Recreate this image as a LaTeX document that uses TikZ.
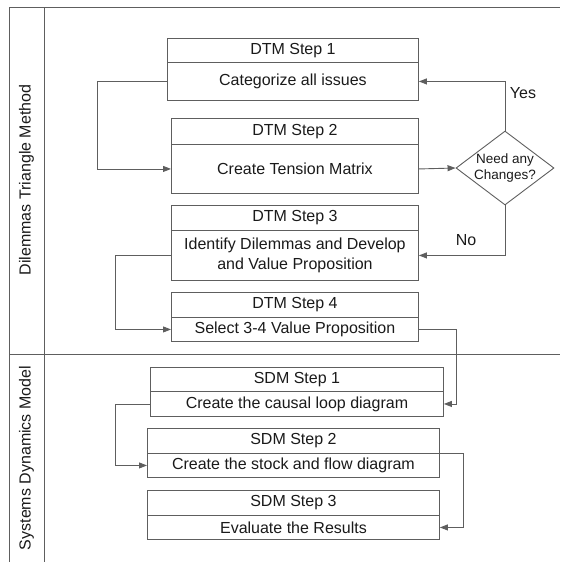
\documentclass[tikz,border=0pt]{standalone}
\usepackage{fontspec}
\setmainfont{Liberation Sans}
\usetikzlibrary{arrows.meta,shapes.geometric}
\definecolor{linegray}{HTML}{5E5E5E}
\definecolor{inkgray}{HTML}{1A1A1A}
\tikzset{
  part/.style={draw=linegray, line width=0.9pt, rectangle, anchor=north west,
    inner sep=0pt, text=inkgray, font=\fontsize{16}{20}\selectfont, align=center},
  conn/.style={draw=linegray, line width=0.9pt, -{Triangle[length=8pt,width=6pt]}},
  lane/.style={draw=linegray, line width=0.9pt},
  lanelabel/.style={rotate=90, text=inkgray, font=\fontsize{16}{20}\selectfont},
  decision/.style={diamond, draw=linegray, line width=0.9pt, inner sep=0pt,
    minimum width=98pt, minimum height=74pt, aspect=1.32},
  decisiontext/.style={text=inkgray, align=center, font=\fontsize{13.5}{16}\selectfont},
  answer/.style={text=inkgray, font=\fontsize{16}{20}\selectfont}
}
\begin{document}
\begin{tikzpicture}[x=1pt, y=-1pt]
  \useasboundingbox (0,0) rectangle (560,562);

  % swimlane frame
  \draw[lane] (9,562) -- (9,7) -- (560,7);
  \draw[lane] (44,7) -- (44,562);
  \draw[lane] (9,354) -- (560,354);
  \node[lanelabel] (laneA) at (26.5,180) {Dilemmas Triangle Method};
  \node[lanelabel] (laneB) at (26.5,458) {Systems Dynamics Model};

  % DTM steps: header part and body part
  \node[part, minimum width=251pt, minimum height=24pt] (d1h) at (167,38) {DTM Step 1};
  \node[part, minimum width=251pt, minimum height=38pt] (d1b) at (167,62) {Categorize all issues};

  \node[part, minimum width=247pt, minimum height=26pt] (d2h) at (171,118) {DTM Step 2};
  \node[part, minimum width=247pt, minimum height=49pt] (d2b) at (171,144) {Create Tension Matrix};

  \node[part, minimum width=247pt, minimum height=25pt] (d3h) at (171,205) {DTM Step 3};
  \node[part, minimum width=247pt, minimum height=50pt] (d3b) at (171,230) {Identify Dilemmas and Develop\\and Value Proposition};

  \node[part, minimum width=247pt, minimum height=25pt] (d4h) at (171,292) {DTM Step 4};
  \node[part, minimum width=247pt, minimum height=24pt] (d4b) at (171,317) {Select 3-4 Value Proposition};

  % SDM steps
  \node[part, minimum width=293pt, minimum height=24pt] (s1h) at (150,367) {SDM Step 1};
  \node[part, minimum width=293pt, minimum height=25pt] (s1b) at (150,391) {Create the causal loop diagram};

  \node[part, minimum width=292pt, minimum height=25pt] (s2h) at (147,428) {SDM Step 2};
  \node[part, minimum width=292pt, minimum height=24pt] (s2b) at (147,453) {Create the stock and flow diagram};

  \node[part, minimum width=292pt, minimum height=25pt] (s3h) at (147,490) {SDM Step 3};
  \node[part, minimum width=292pt, minimum height=24pt] (s3b) at (147,515) {Evaluate the Results};

  % decision
  \node[decision, label={[decisiontext]center:{Need any\\Changes?}}] (dec) at (505,168) {};

  % connectors
  \draw[conn] (d1b.west) -- ++(-70,0) |- (d2b.west);
  \draw[conn] (d2b.east) -- (dec.west);
  \draw[conn] (dec.north) |- (d1b.east);
  \draw[conn] (dec.south) |- (d3b.east);
  \draw[conn] (d3b.west) -- ++(-56,0) |- (d4b.west);
  \draw[conn] (d4b.east) -- ++(38,0) |- (s1b.east);
  \draw[conn] (s1b.west) -- ++(-35,0) |- (s2b.west);
  \draw[conn] (s2h.south east) -- ++(24,0) |- (s3b.east);

  % decision answers
  \node[answer] (yes) at (523,93) {Yes};
  \node[answer] (no) at (466,240) {No};
\end{tikzpicture}
\end{document}
